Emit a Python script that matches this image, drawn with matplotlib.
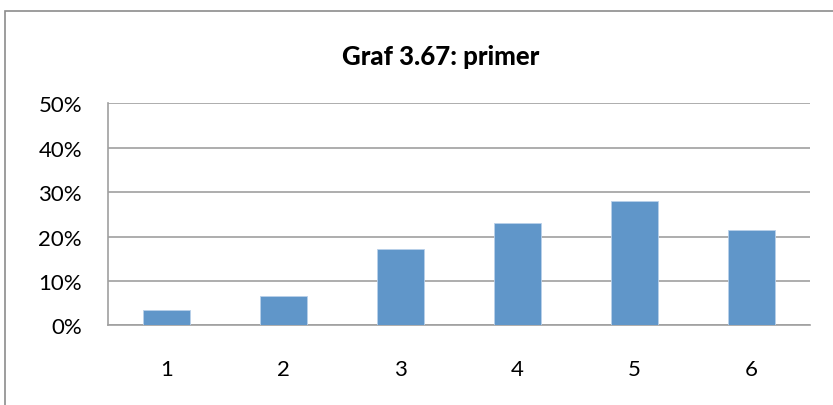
import matplotlib.pyplot as plt
from matplotlib.patches import Rectangle
from matplotlib.ticker import PercentFormatter

plt.rcParams['font.family'] = ['Lato', 'DejaVu Sans']

categories = ["1", "2", "3", "4", "5", "6"]
shares = [3.45, 6.5, 17.1, 23.0, 28.0, 21.5]
title = "Graf 3.67: primer"

fig = plt.figure(figsize=(8.33, 4.06), dpi=100)
ax = fig.add_axes([107.7 / 833, 1 - 326.3 / 406, (810 - 107.7) / 833, (326.3 - 104.3) / 406])

# outer chart frame
fig.patches.append(Rectangle((4.5 / 833, -0.01), 1.0, (406 - 12) / 406 + 0.01,
                             transform=fig.transFigure, fill=False,
                             edgecolor='#8c8c8c', linewidth=1.2))

x = range(len(categories))
ax.bar(x, shares, width=0.4, color='#6096c9', edgecolor='#b9d0ea', linewidth=0.6, zorder=3)

ax.set_xlim(-0.5, len(categories) - 0.5)
ax.set_ylim(0, 50)
ax.set_yticks(range(0, 51, 10))
ax.yaxis.set_major_formatter(PercentFormatter(decimals=0))
ax.set_xticks(list(x))
ax.set_xticklabels(categories)
ax.grid(axis='y', color='#a0a0a0', linewidth=1.2, zorder=0)
ax.tick_params(length=0, labelsize=16, colors='black')
ax.tick_params(axis='y', pad=18.5)
ax.tick_params(axis='x', pad=24)

for side in ['top', 'right']:
    ax.spines[side].set_visible(False)
for side in ['left', 'bottom']:
    ax.spines[side].set_color('#a0a0a0')
    ax.spines[side].set_linewidth(1.2)

fig.text(441 / 833, 1 - 57 / 406, title, ha='center', va='center',
         fontsize=18.5, fontweight='black')

fig.savefig('out.png', dpi=100)
